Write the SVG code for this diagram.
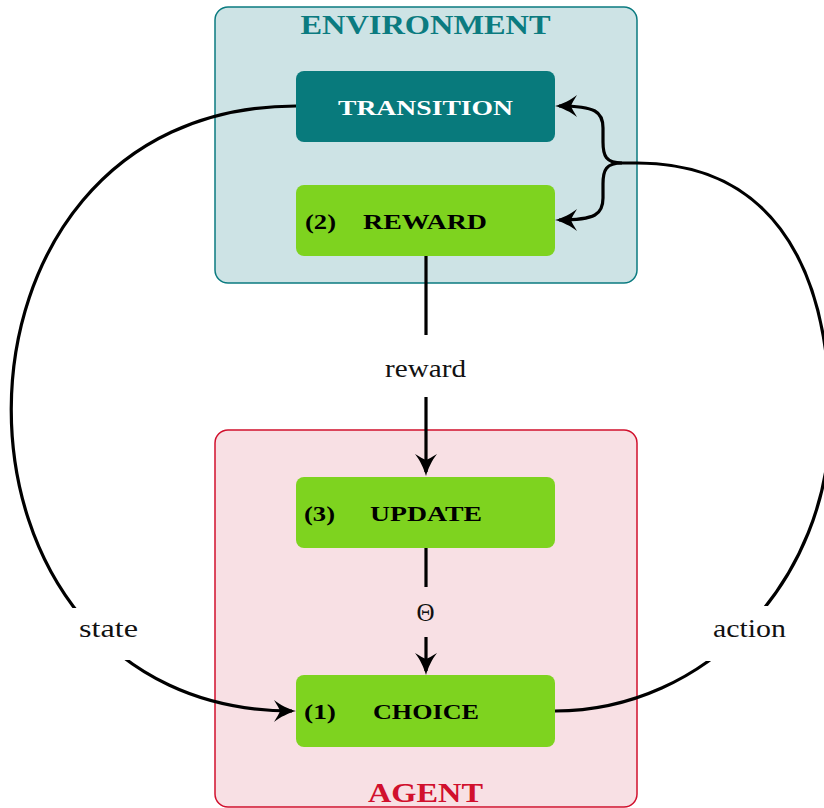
<svg xmlns="http://www.w3.org/2000/svg" width="824" height="808" viewBox="0 0 824 808">
  <defs>
    <style>
      .env { fill: #cde3e5; stroke: #0b7b80; stroke-width: 1.5; }
      .agent { fill: #f8e0e4; stroke: #d1102d; stroke-width: 1.5; }
      .teal { fill: #087a7c; }
      .green { fill: #7ed31f; }
      .title { font-family: "Liberation Serif", "DejaVu Serif", serif; font-weight: bold; font-size: 27px; text-anchor: middle; }
      .node { font-family: "Liberation Serif", "DejaVu Serif", serif; font-weight: bold; font-size: 22px; }
      .lbl { font-family: "Liberation Serif", "DejaVu Serif", serif; font-size: 25px; fill: #111; }
      .wire { fill: none; stroke: #000; stroke-width: 3.2; }
    </style>
    <marker id="arrow" markerUnits="userSpaceOnUse" viewBox="0 -12 24 24" markerWidth="24" markerHeight="24" refX="20" refY="0" orient="auto">
      <path d="M24,0 C17,-2 8,-6 2,-11 C5,-6 7,-3 8,0 C7,3 5,6 2,11 C8,6 17,2 24,0 Z" fill="#000"/>
    </marker>
  </defs>

  <rect width="824" height="808" fill="#fff"/>

  <!-- containers -->
  <g id="environment">
    <rect class="env" x="215" y="7" width="422" height="276" rx="13"/>
    <text class="title" x="425.5" y="34" fill="#0b7b80" textLength="250" lengthAdjust="spacingAndGlyphs">ENVIRONMENT</text>
  </g>
  <g id="agent">
    <rect class="agent" x="215" y="430" width="422" height="377" rx="13"/>
    <text class="title" x="425.5" y="802" fill="#d1102d" textLength="115" lengthAdjust="spacingAndGlyphs">AGENT</text>
  </g>

  <!-- connectors -->
  <g id="connectors">
    <!-- reward -->
    <line class="wire" x1="426" y1="256" x2="426" y2="335"/>
    <line class="wire" x1="426" y1="397" x2="426" y2="472" marker-end="url(#arrow)"/>
    <!-- theta -->
    <line class="wire" x1="426" y1="548" x2="426" y2="587"/>
    <line class="wire" x1="426" y1="637" x2="426" y2="671" marker-end="url(#arrow)"/>
    <!-- state -->
    <path class="wire" d="M296,106 C-83,106 -83,711 292,711" marker-end="url(#arrow)"/>
    <!-- action -->
    <path class="wire" d="M555,711 C706,711 830,580 830,420 C830,253 762,163 637,163 L622,163"/>
    <path class="wire" d="M622,163 C606,163 603,156 603,142 L603,128 C603,112 596,106 559,106" marker-end="url(#arrow)"/>
    <path class="wire" d="M622,163 C606,163 603,170 603,184 L603,198 C603,214 596,220 559,220" marker-end="url(#arrow)"/>
    <!-- label clearings on the curves -->
    <rect x="70" y="608" width="72" height="52" fill="#fff"/>
    <rect x="705" y="606" width="92" height="55" fill="#fff"/>
    <text class="lbl" x="385" y="377" textLength="81" lengthAdjust="spacingAndGlyphs">reward</text>
    <text class="lbl" x="425.5" y="621" text-anchor="middle" font-size="26">Θ</text>
    <text class="lbl" x="79" y="637" textLength="59" lengthAdjust="spacingAndGlyphs">state</text>
    <text class="lbl" x="713" y="637" textLength="73" lengthAdjust="spacingAndGlyphs">action</text>
  </g>

  <!-- process nodes -->
  <g id="transition">
    <rect class="teal" x="296" y="71" width="259" height="71" rx="8"/>
    <text class="node" x="338" y="115" fill="#fff" textLength="175" lengthAdjust="spacingAndGlyphs">TRANSITION</text>
  </g>
  <g id="reward">
    <rect class="green" x="296" y="185" width="259" height="71" rx="8"/>
    <text class="node" x="305" y="229" textLength="31" lengthAdjust="spacingAndGlyphs">(2)</text>
    <text class="node" x="363" y="229" textLength="124" lengthAdjust="spacingAndGlyphs">REWARD</text>
  </g>
  <g id="update">
    <rect class="green" x="296" y="477" width="259" height="71" rx="8"/>
    <text class="node" x="304" y="521" textLength="31" lengthAdjust="spacingAndGlyphs">(3)</text>
    <text class="node" x="370" y="521" textLength="112" lengthAdjust="spacingAndGlyphs">UPDATE</text>
  </g>
  <g id="choice">
    <rect class="green" x="296" y="675" width="259" height="72" rx="8"/>
    <text class="node" x="304" y="719" textLength="32" lengthAdjust="spacingAndGlyphs">(1)</text>
    <text class="node" x="373" y="719" textLength="106" lengthAdjust="spacingAndGlyphs">CHOICE</text>
  </g>
</svg>
